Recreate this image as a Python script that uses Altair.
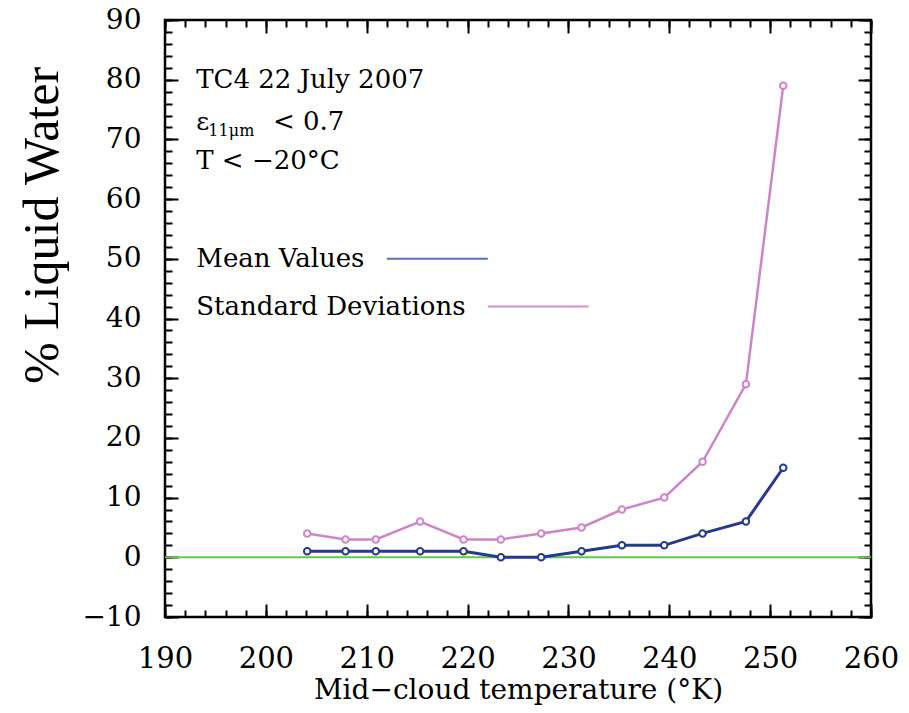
import altair as alt
import pandas as pd

# ---------------- data ----------------
temps = [204.1, 207.9, 210.9, 215.3, 219.6, 223.3, 227.3, 231.3, 235.3, 239.5, 243.3, 247.6, 251.3]
mean_values = [1, 1, 1, 1, 1, 0, 0, 1, 2, 2, 4, 6, 15]
std_values = [4, 3, 3, 6, 3, 3, 4, 5, 8, 10, 16, 29, 79]

x_major = list(range(190, 261, 10))
x_minor = list(range(190, 261, 2))
y_major = list(range(-10, 91, 10))
y_minor = list(range(-10, 91, 2))

note_text = ["TC4 22 July 2007", "T < −20°C"]
note_x = [193.1, 193.1]
note_y = [80.0, 66.3]

eps_parts = ["ε", "11μm", "< 0.7"]
eps_x = [193.1, 194.3, 200.7]
eps_y = [72.9, 71.4, 72.9]
eps_size = [25, 16, 26]

legend_labels = ["Mean Values", "Standard Deviations"]
legend_text_x = [193.1, 193.1]
legend_y = [50.0, 42.0]
legend_line_x = [212.0, 222.0]
legend_line_x2 = [222.0, 232.0]
legend_colors = ["#5a6dbf", "#d690cd"]

zero_level = [0]

MEAN_COLOR = "#233a8e"
STD_COLOR = "#d084c8"
GREEN = "#62c84a"
SERIF = "DejaVu Serif"

# ---------------- tables ----------------
df = pd.DataFrame({"T": temps, "mean": mean_values, "std": std_values})
notes = pd.DataFrame({"x": note_x, "y": note_y, "t": note_text})
eps = pd.DataFrame({"x": eps_x, "y": eps_y, "t": eps_parts, "s": eps_size})
leg = pd.DataFrame({"x": legend_text_x, "y": legend_y, "t": legend_labels,
                    "lx": legend_line_x, "lx2": legend_line_x2, "c": legend_colors})
zero_df = pd.DataFrame({"v": zero_level})

xs = alt.Scale(domain=[190, 260], nice=False, zero=False)
ys = alt.Scale(domain=[-10, 90], nice=False, zero=False)

MAJ = 13
MIN = 7


def tick_axis(orient, values, size):
    return alt.Axis(orient=orient, values=values, tickSize=size, offset=-size,
                    labels=False, title=None, domain=False, grid=False,
                    tickColor="black", tickWidth=2)


x_label_axis = alt.Axis(orient="bottom", values=x_major, tickSize=MAJ, offset=-MAJ,
                        domain=False, grid=False, tickColor="black", tickWidth=2,
                        labelFont=SERIF, labelFontSize=29, labelColor="black",
                        labelPadding=27, labelFlush=False, labelOverlap=False,
                        title="Mid−cloud temperature (°K)", titleFont=SERIF,
                        titleFontSize=28, titleFontWeight="normal", titleColor="black",
                        titlePadding=3)
y_label_axis = alt.Axis(orient="left", values=y_major, tickSize=MAJ, offset=-MAJ,
                        domain=False, grid=False, tickColor="black", tickWidth=2,
                        labelFont=SERIF, labelFontSize=28, labelColor="black",
                        labelPadding=24, labelFlush=False, labelOverlap=False,
                        title="% Liquid Water", titleFont="Liberation Serif",
                        titleFontSize=50, titleFontWeight="normal", titleColor="black",
                        titlePadding=14, titleY=205)

base = alt.Chart(df)

std_line = base.mark_line(color=STD_COLOR, strokeWidth=2.5).encode(
    x=alt.X("T:Q", scale=xs, axis=x_label_axis),
    y=alt.Y("std:Q", scale=ys, axis=y_label_axis),
)
mean_line = base.mark_line(color=MEAN_COLOR, strokeWidth=3).encode(
    x=alt.X("T:Q", scale=xs, axis=tick_axis("bottom", x_minor, MIN)),
    y=alt.Y("mean:Q", scale=ys, axis=tick_axis("left", y_minor, MIN)),
)
std_pts = base.mark_point(shape="circle", size=42, filled=True, fill="white",
                          stroke=STD_COLOR, strokeWidth=2, opacity=1).encode(
    x=alt.X("T:Q", scale=xs, axis=tick_axis("top", x_major, MAJ)),
    y=alt.Y("std:Q", scale=ys, axis=tick_axis("right", y_major, MAJ)),
)
mean_pts = base.mark_point(shape="circle", size=42, filled=True, fill="white",
                           stroke=MEAN_COLOR, strokeWidth=2, opacity=1).encode(
    x=alt.X("T:Q", scale=xs, axis=tick_axis("top", x_minor, MIN)),
    y=alt.Y("mean:Q", scale=ys, axis=tick_axis("right", y_minor, MIN)),
)

zero_line = alt.Chart(zero_df).mark_rule(color=GREEN, strokeWidth=2).encode(
    y=alt.Y("v:Q", scale=ys, axis=None),
)

note_layer = alt.Chart(notes).mark_text(align="left", baseline="middle", font=SERIF,
                                        fontSize=26, color="black").encode(
    x=alt.X("x:Q", scale=xs, axis=None),
    y=alt.Y("y:Q", scale=ys, axis=None),
    text="t:N",
)
eps_layer = alt.Chart(eps).mark_text(align="left", baseline="middle", font=SERIF,
                                     color="black").encode(
    x=alt.X("x:Q", scale=xs, axis=None),
    y=alt.Y("y:Q", scale=ys, axis=None),
    text="t:N",
    size=alt.Size("s:Q", scale=None, legend=None),
)
leg_text = alt.Chart(leg).mark_text(align="left", baseline="middle", font=SERIF,
                                    fontSize=26, color="black").encode(
    x=alt.X("x:Q", scale=xs, axis=None),
    y=alt.Y("y:Q", scale=ys, axis=None),
    text="t:N",
)
leg_lines = alt.Chart(leg).mark_rule(strokeWidth=2).encode(
    x=alt.X("lx:Q", scale=xs, axis=None),
    x2="lx2:Q",
    y=alt.Y("y:Q", scale=ys, axis=None),
    color=alt.Color("c:N", scale=None, legend=None),
)

chart = alt.layer(
    zero_line, std_line, mean_line, std_pts, mean_pts,
    note_layer, eps_layer, leg_text, leg_lines,
).resolve_axis(
    x="independent", y="independent"
).properties(
    width=706, height=597,
    autosize=alt.AutoSizeParams(type="none"),
    padding={"left": 157, "top": 12, "right": 30, "bottom": 88},
    background="white",
).configure_view(
    stroke="black", strokeWidth=2.5
)

chart.save("out.html", embed_options={"renderer": "svg", "actions": False})
